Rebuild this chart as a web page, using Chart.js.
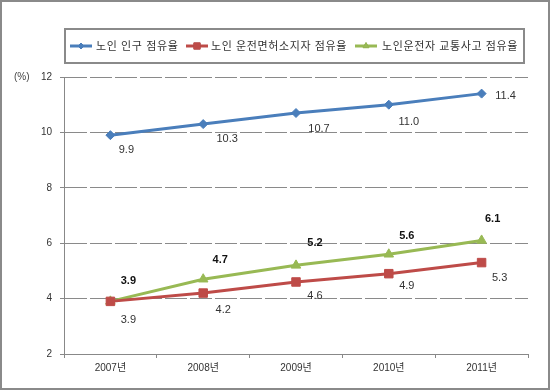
<!DOCTYPE html>
<html>
<head>
<meta charset="utf-8">
<script src="https://cdn.jsdelivr.net/npm/chart.js@4"></script>
<style>
  html, body { margin: 0; padding: 0; background: #fff; }
  #wrap { width: 550px; height: 390px; position: relative; }
</style>
</head>
<body>
<div id="wrap"><canvas id="chart" width="550" height="390"></canvas></div>
<script>
// chart data
const years = ['2007년', '2008년', '2009년', '2010년', '2011년'];
const seriesNames = ['노인 인구 점유율', '노인 운전면허소지자 점유율', '노인운전자 교통사고 점유율'];
const populationShare = [9.9, 10.3, 10.7, 11.0, 11.4];
const licenseShare = [3.9, 4.2, 4.6, 4.9, 5.3];
const accidentShare = [3.9, 4.7, 5.2, 5.6, 6.1];
const yTicks = [2, 4, 6, 8, 10, 12];

const FONT = "'Liberation Sans', 'Noto Sans CJK KR', sans-serif";
const colors = ['#4a7ebb', '#be4b48', '#98b954'];
const markers = ['rectRot', 'rect', 'triangle'];
const markerSize = [4.5, 6, 5.5];
const legendMarkerSize = [3, 4.5, 3.5];

// label offsets from each point (dx, dy), Excel-style placement
const labelOffsets = [
  [[16, 15], [24, 15], [23, 16], [20, 17], [24, 2]],
  [[18, 19], [20, 17], [19, 14], [18, 12], [18, 15]],
  [[18, -20], [17, -19], [19, -22], [18, -18], [11, -21]]
];

const valueLabels = {
  id: 'valueLabels',
  afterDatasetsDraw(chart) {
    const ctx = chart.ctx;
    ctx.save();
    ctx.textAlign = 'center';
    ctx.textBaseline = 'middle';
    chart.data.datasets.forEach((ds, i) => {
      const meta = chart.getDatasetMeta(i);
      ctx.font = (i === 2 ? 'bold ' : '') + '11px ' + FONT;
      ctx.fillStyle = i === 2 ? '#111' : '#333';
      meta.data.forEach((pt, j) => {
        const off = labelOffsets[i][j];
        ctx.fillText(ds.data[j].toFixed(1), pt.x + off[0], pt.y + off[1]);
      });
    });
    ctx.restore();
  }
};

const frameAndLegend = {
  id: 'frameAndLegend',
  afterDraw(chart) {
    const ctx = chart.ctx;
    ctx.save();
    // outer frame
    ctx.strokeStyle = '#8a8a8a';
    ctx.lineWidth = 2;
    ctx.strokeRect(1, 1, 548, 388);
    // legend box
    ctx.strokeRect(65, 29, 459, 34);
    const items = [[70, 96], [186, 211], [355, 382]];
    const cy = 46;
    ctx.font = '11px ' + FONT;
    ctx.letterSpacing = '0.6px';
    ctx.textBaseline = 'middle';
    ctx.textAlign = 'left';
    chart.data.datasets.forEach((ds, i) => {
      const [lx, tx] = items[i];
      ctx.strokeStyle = colors[i];
      ctx.lineWidth = 3;
      ctx.beginPath();
      ctx.moveTo(lx, cy);
      ctx.lineTo(lx + 22, cy);
      ctx.stroke();
      ctx.lineWidth = 1;
      Chart.helpers.drawPoint(ctx, {
        pointStyle: markers[i], radius: legendMarkerSize[i], borderWidth: 1,
        rotation: 0
      }, lx + 11, cy);
      ctx.fillStyle = colors[i];
      ctx.fill();
      ctx.fillStyle = '#333';
      ctx.fillText(ds.label, tx, cy + 1);
    });
    ctx.letterSpacing = '0px';
    // unit label
    ctx.font = '10px ' + FONT;
    ctx.fillStyle = '#444';
    ctx.fillText('(%)', 14, 77);
    ctx.restore();
  }
};

new Chart(document.getElementById('chart'), {
  type: 'line',
  data: {
    labels: years,
    datasets: [populationShare, licenseShare, accidentShare].map((d, i) => ({
      label: seriesNames[i],
      data: d,
      borderColor: colors[i],
      backgroundColor: colors[i],
      borderWidth: 3,
      pointStyle: markers[i],
      pointRadius: markerSize[i],
      pointBorderWidth: 1,
      tension: 0
    }))
  },
  options: {
    responsive: false,
    animation: false,
    layout: { padding: { left: 0, right: 22, top: 77, bottom: 0 } },
    plugins: { legend: { display: false }, tooltip: { enabled: false } },
    scales: {
      x: {
        offset: true,
        afterFit: s => { s.height = 36; },
        grid: { display: true, offset: true, drawOnChartArea: false, drawTicks: true, tickLength: 4, color: '#888' },
        border: { display: true, color: '#888', width: 1 },
        ticks: { color: '#333', font: { family: FONT, size: 10 }, padding: 4 }
      },
      y: {
        min: 2, max: 12,
        afterFit: s => { s.width = 64; },
        afterBuildTicks: s => { s.ticks = yTicks.map(v => ({ value: v })); },
        grid: { color: '#8a8a8a', tickColor: '#888', tickLength: 4, lineWidth: 1 },
        border: { display: true, color: '#888', width: 1, dash: [22, 3] },
        ticks: { color: '#333', font: { family: FONT, size: 10 }, padding: 8 }
      }
    }
  },
  plugins: [valueLabels, frameAndLegend]
});
</script>
</body>
</html>
